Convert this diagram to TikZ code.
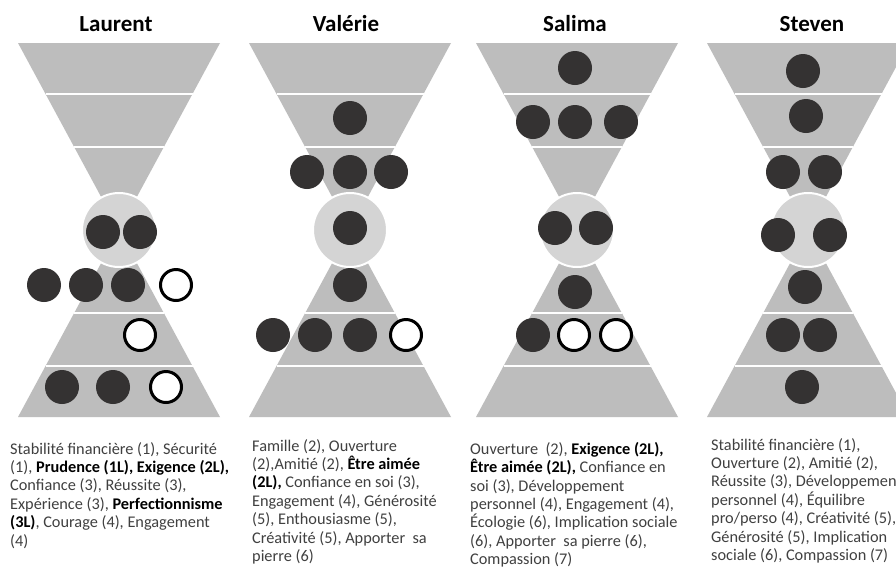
\documentclass[tikz,border=0pt]{standalone}
\usepackage{fontspec}
\setmainfont{Carlito}
\definecolor{trig}{RGB}{189,189,189}
\definecolor{circg}{RGB}{212,212,212}
\definecolor{dotc}{RGB}{52,50,50}
\definecolor{txtc}{RGB}{64,64,64}
\tikzset{
  tri/.style={fill=trig},
  sepline/.style={draw=white, line width=2pt},
  mid/.style={fill=circg, draw=white, line width=2pt},
  fulldot/.style={circle, fill=dotc, minimum size=34pt, inner sep=0pt},
  opendot/.style={circle, draw=black, line width=3pt, fill=white, minimum size=31pt, inner sep=0pt},
  title/.style={font=\fontsize{23}{26}\selectfont\bfseries, text=black, inner sep=0pt},
  body/.style={font=\fontsize{16.3}{18.4}\selectfont, text=txtc, align=left, anchor=north west, inner sep=0pt},
}
\newcommand{\bk}[1]{\textbf{\color{black}#1}}
\begin{document}
\begin{tikzpicture}[x=1pt,y=-1pt]
\clip (0,0) rectangle (896,566);
\fill[white] (0,0) rectangle (896,566);
\foreach \cx in {119,350,577,808} {
  \fill[tri] (\cx-101,43) -- (\cx+101,43) -- (\cx,230) -- cycle;
  \fill[tri] (\cx-101,417) -- (\cx+101,417) -- (\cx,230) -- cycle;
  \draw[sepline] (\cx-73.5,94) -- (\cx+73.5,94);
  \draw[sepline] (\cx-44.8,147) -- (\cx+44.8,147);
  \draw[sepline] (\cx-44.8,313) -- (\cx+44.8,313);
  \draw[sepline] (\cx-73.5,366) -- (\cx+73.5,366);
  \filldraw[mid] (\cx,230) circle[radius=37];
}
% titles
\node[title] (tL) at (116,24) {Laurent};
\node[title] (tV) at (346,24) {Valérie};
\node[title] (tS) at (575,24) {Salima};
\node[title] (tT) at (812,24) {Steven};
% Laurent
\node[fulldot] (L1) at (103,232) {};
\node[fulldot] (L2) at (140,232) {};
\node[fulldot] (L3) at (44,285) {};
\node[fulldot] (L4) at (86,285) {};
\node[fulldot] (L5) at (128,285) {};
\node[opendot] (L6) at (176,285) {};
\node[opendot] (L7) at (140,335) {};
\node[fulldot] (L8) at (62,387) {};
\node[fulldot] (L9) at (113,387) {};
\node[opendot] (L10) at (166,387) {};
% Valerie
\node[fulldot] (V1) at (350,118) {};
\node[fulldot] (V2) at (307,172) {};
\node[fulldot] (V3) at (350,172) {};
\node[fulldot] (V4) at (391,172) {};
\node[fulldot] (V5) at (350,228) {};
\node[fulldot] (V6) at (350,285) {};
\node[fulldot] (V7) at (273,335) {};
\node[fulldot] (V8) at (315,335) {};
\node[fulldot] (V9) at (360,335) {};
\node[opendot] (V10) at (406,335) {};
% Salima
\node[fulldot] (S1) at (575,68) {};
\node[fulldot] (S2) at (533,122) {};
\node[fulldot] (S3) at (575,122) {};
\node[fulldot] (S4) at (621,122) {};
\node[fulldot] (S5) at (555,228) {};
\node[fulldot] (S6) at (596,228) {};
\node[fulldot] (S7) at (575,292) {};
\node[fulldot] (S8) at (533,335) {};
\node[opendot] (S9) at (574,335) {};
\node[opendot] (S10) at (616,335) {};
% Steven
\node[fulldot] (T1) at (803,71) {};
\node[fulldot] (T2) at (806,116) {};
\node[fulldot] (T3) at (783,172) {};
\node[fulldot] (T4) at (825,172) {};
\node[fulldot] (T5) at (778,235) {};
\node[fulldot] (T6) at (830,235) {};
\node[fulldot] (T7) at (805,287) {};
\node[fulldot] (T8) at (783,335) {};
\node[fulldot] (T9) at (820,335) {};
\node[fulldot] (T10) at (802,387) {};
% texts
\node[body] (xL) at (10,442) {Stabilité financière (1), Sécurité\\
(1), \bk{Prudence (1L), Exigence (2L),}\\
Confiance (3), Réussite (3),\\
Expérience (3), \bk{Perfectionnisme}\\
\bk{(3L)}, Courage (4), Engagement\\
(4)};
\node[body] (xV) at (252,439) {Famille (2), Ouverture\\
(2),Amitié (2), \bk{Être aimée}\\
\bk{(2L),} Confiance en soi (3),\\
Engagement (4), Générosité\\
(5), Enthousiasme (5),\\
Créativité (5), Apporter\ \ sa\\
pierre (6)};
\node[body] (xS) at (470,442) {Ouverture\ \ (2), \bk{Exigence (2L),}\\
\bk{Être aimée (2L),} Confiance en\\
soi (3), Développement\\
personnel (4), Engagement (4),\\
Écologie (6), Implication sociale\\
(6), Apporter\ \ sa pierre (6),\\
Compassion (7)};
\node[body] (xT) at (711,438) {Stabilité financière (1),\\
Ouverture (2), Amitié (2),\\
Réussite (3), Développement\\
personnel (4), Équilibre\\
pro/perso (4), Créativité (5),\\
Générosité (5), Implication\\
sociale (6), Compassion (7)};
\end{tikzpicture}
\end{document}
